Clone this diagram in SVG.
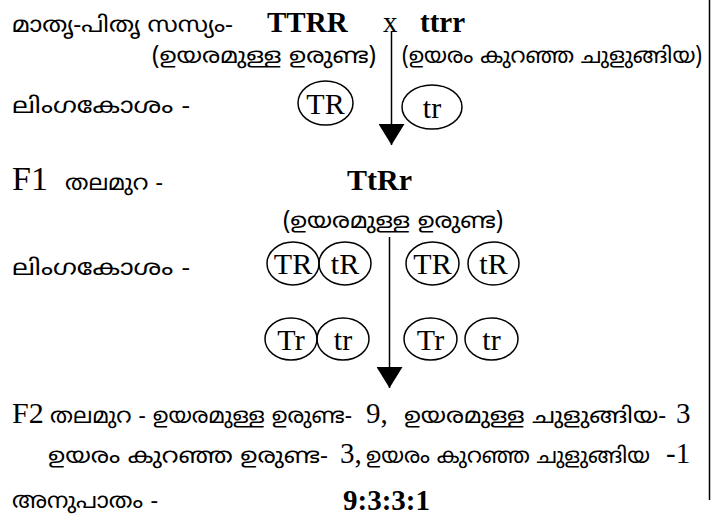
<svg xmlns="http://www.w3.org/2000/svg" width="713" height="520" viewBox="0 0 713 520">
<style>
.ml{font-family:"Noto Sans Malayalam","Noto Sans","DejaVu Sans",sans-serif;font-size:22px;fill:#000}
.sr{font-family:"Liberation Serif","Times New Roman",serif;fill:#000}
.b{font-weight:bold}
.el{fill:none;stroke:#000;stroke-width:1.5}
.ln{stroke:#000;stroke-width:1.5;fill:none}
</style>
<defs>
<marker id="ah" viewBox="0 0 21 26" refX="21" refY="13" markerWidth="21" markerHeight="26" markerUnits="userSpaceOnUse" orient="auto">
<path d="M0,0 L21,13 L0,26 Z" fill="#000"/>
</marker>
</defs>
<rect width="713" height="520" fill="#fff"/>

<g id="parents">
<text class="ml" x="12" y="32" textLength="221" lengthAdjust="spacingAndGlyphs">മാതൃ-പിതൃ സസ്യം-</text>
<text class="sr b" x="267" y="32" font-size="29">TTRR</text>
<text class="sr" x="383" y="32" font-size="29">x</text>
<text class="sr b" x="420" y="32" font-size="29">ttrr</text>
</g>
<g id="parent-traits">
<text class="ml" x="152" y="63" textLength="224" lengthAdjust="spacingAndGlyphs">(ഉയരമുള്ള ഉരുണ്ട)</text>
<text class="ml" x="402" y="63" textLength="300" lengthAdjust="spacingAndGlyphs">(ഉയരം കുറഞ്ഞ ചുളുങ്ങിയ)</text>
</g>
<g id="gametes1-label"><text class="ml" x="12" y="113" textLength="178" lengthAdjust="spacingAndGlyphs">ലിംഗകോശം -</text></g>
<g id="gamete-TR">
<ellipse class="el" cx="325.5" cy="103" rx="27.5" ry="22"/>
<text class="sr" x="325.5" y="114" font-size="30" text-anchor="middle">TR</text>
</g>
<g id="gamete-tr">
<ellipse class="el" cx="432" cy="107" rx="30" ry="22"/>
<text class="sr" x="432" y="118" font-size="30" text-anchor="middle">tr</text>
</g>

<g id="f1">
<text class="sr" x="12" y="190" font-size="34">F1</text>
<text class="ml" x="65" y="190" textLength="98" lengthAdjust="spacingAndGlyphs">തലമുറ -</text>
<text class="sr b" x="347" y="190" font-size="30">TtRr</text>
<text class="ml" x="283" y="228" textLength="220" lengthAdjust="spacingAndGlyphs">(ഉയരമുള്ള ഉരുണ്ട)</text>
</g>

<g id="gametes2-label"><text class="ml" x="12" y="275" textLength="178" lengthAdjust="spacingAndGlyphs">ലിംഗകോശം -</text></g>
<g id="g-TR-1"><ellipse class="el" cx="293" cy="263.5" rx="26" ry="21.5"/><text class="sr" x="293" y="274" font-size="30" text-anchor="middle">TR</text></g>
<g id="g-tR-1"><ellipse class="el" cx="345" cy="263.5" rx="26" ry="21.5"/><text class="sr" x="345" y="274" font-size="30" text-anchor="middle">tR</text></g>
<g id="g-TR-2"><ellipse class="el" cx="432.5" cy="263.5" rx="26.5" ry="21.5"/><text class="sr" x="432.5" y="274" font-size="30" text-anchor="middle">TR</text></g>
<g id="g-tR-2"><ellipse class="el" cx="493.5" cy="263.5" rx="25.5" ry="21.5"/><text class="sr" x="493.5" y="274" font-size="30" text-anchor="middle">tR</text></g>
<g id="g-Tr-1"><ellipse class="el" cx="291" cy="339" rx="26" ry="21"/><text class="sr" x="291" y="350" font-size="30" text-anchor="middle">Tr</text></g>
<g id="g-tr-1"><ellipse class="el" cx="343" cy="339" rx="26" ry="21"/><text class="sr" x="343" y="350" font-size="30" text-anchor="middle">tr</text></g>
<g id="g-Tr-2"><ellipse class="el" cx="430.5" cy="339" rx="26.5" ry="21"/><text class="sr" x="430.5" y="350" font-size="30" text-anchor="middle">Tr</text></g>
<g id="g-tr-2"><ellipse class="el" cx="491.5" cy="339" rx="26.5" ry="21"/><text class="sr" x="491.5" y="350" font-size="30" text-anchor="middle">tr</text></g>

<g id="f2">
<text class="sr" x="12" y="423" font-size="30">F2</text>
<text class="ml" x="50" y="423" textLength="302" lengthAdjust="spacingAndGlyphs">തലമുറ - ഉയരമുള്ള ഉരുണ്ട-</text>
<text class="sr" x="366" y="423" font-size="29">9,</text>
<text class="ml" x="404" y="423" textLength="262" lengthAdjust="spacingAndGlyphs">ഉയരമുള്ള ചുളുങ്ങിയ-</text>
<text class="sr" x="676" y="423" font-size="29">3</text>
<text class="ml" x="48" y="463" textLength="280" lengthAdjust="spacingAndGlyphs">ഉയരം കുറഞ്ഞ ഉരുണ്ട-</text>
<text class="sr" x="340" y="463" font-size="29">3,</text>
<text class="ml" x="366" y="463" textLength="284" lengthAdjust="spacingAndGlyphs">ഉയരം കുറഞ്ഞ ചുളുങ്ങിയ</text>
<text class="sr" x="666" y="463" font-size="29">-1</text>
</g>
<g id="ratio">
<text class="ml" x="12" y="508" textLength="146" lengthAdjust="spacingAndGlyphs">അനുപാതം -</text>
<text class="sr b" x="343" y="510" font-size="29">9:3:3:1</text>
</g>

<g id="connectors">
<line class="ln" x1="391.5" y1="31" x2="391.5" y2="145" marker-end="url(#ah)"/>
<line class="ln" x1="389.5" y1="237" x2="389.5" y2="388" marker-end="url(#ah)"/>
<line class="ln" x1="709.5" y1="0" x2="709.5" y2="500"/>
</g>
</svg>
